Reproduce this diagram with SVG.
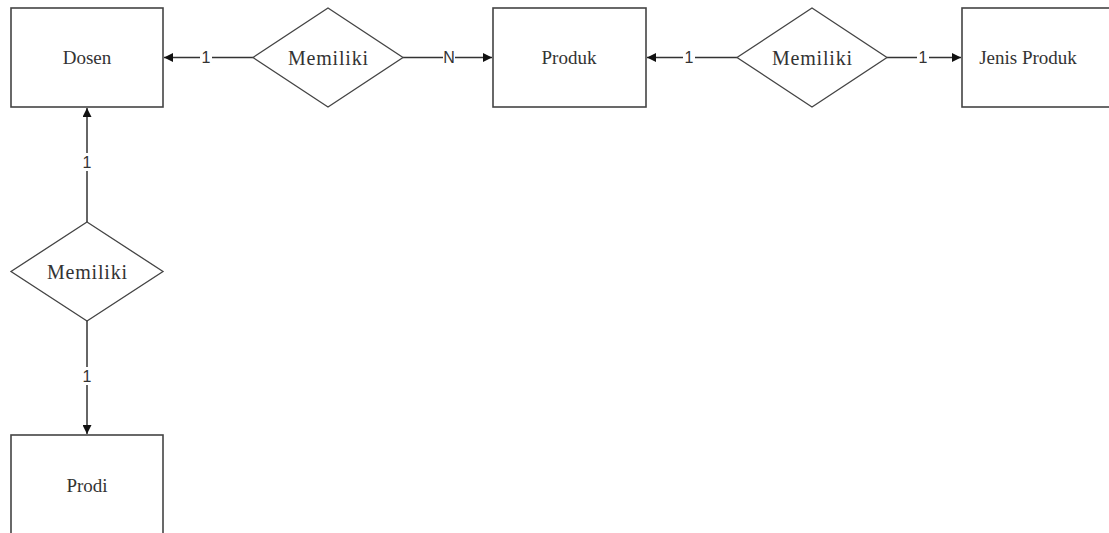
<svg xmlns="http://www.w3.org/2000/svg" width="1109" height="533" viewBox="0 0 1109 533">
<defs>
<style>
.ent{fill:#fff;stroke:#444;stroke-width:1.6}
.rel{fill:#fff;stroke:#444;stroke-width:1.3}
.t{font-family:"Liberation Serif",serif;font-size:19px;fill:#333;text-anchor:middle;dominant-baseline:central}
.m{font-size:20px}
.c{stroke:#333;stroke-width:1.5;fill:none}
.lb{font-family:"Liberation Sans",sans-serif;font-size:16px;fill:#333;text-anchor:middle;dominant-baseline:central}
.bg{fill:#fff}
</style>
<marker id="ah" viewBox="0 0 10 10" refX="10" refY="5" markerWidth="10" markerHeight="9" markerUnits="userSpaceOnUse" orient="auto">
<path d="M0,0 L10,5 L0,10 z" fill="#111"/>
</marker>
</defs>
<rect width="1109" height="533" fill="#fff"/>
<g id="connectors">
<line class="c" x1="253" y1="57.5" x2="164" y2="57.5" marker-end="url(#ah)"/>
<rect class="bg" x="200" y="49" width="12" height="17"/>
<text class="lb" x="206" y="57.5">1</text>
<line class="c" x1="403" y1="57.5" x2="492" y2="57.5" marker-end="url(#ah)"/>
<rect class="bg" x="443" y="49" width="12" height="17"/>
<text class="lb" x="449" y="57.5">N</text>
<line class="c" x1="737" y1="57.5" x2="647" y2="57.5" marker-end="url(#ah)"/>
<rect class="bg" x="683" y="49" width="12" height="17"/>
<text class="lb" x="689" y="57.5">1</text>
<line class="c" x1="887" y1="57.5" x2="961" y2="57.5" marker-end="url(#ah)"/>
<rect class="bg" x="917" y="49" width="12" height="17"/>
<text class="lb" x="923" y="57.5">1</text>
<line class="c" x1="87" y1="222" x2="87" y2="108" marker-end="url(#ah)"/>
<rect class="bg" x="80" y="153" width="14" height="18"/>
<text class="lb" x="87" y="162">1</text>
<line class="c" x1="87" y1="321" x2="87" y2="434" marker-end="url(#ah)"/>
<rect class="bg" x="80" y="367" width="14" height="18"/>
<text class="lb" x="87" y="376">1</text>
</g>
<g id="dosen">
<rect class="ent" x="11" y="8" width="152" height="99"/>
<text class="t" x="87" y="57.5">Dosen</text>
</g>
<g id="memiliki1">
<polygon class="rel" points="328,8 403,57.5 328,107 253,57.5"/>
<text class="t m" x="328" y="57.5" textLength="80" lengthAdjust="spacing">Memiliki</text>
</g>
<g id="produk">
<rect class="ent" x="493" y="8" width="153" height="99"/>
<text class="t" x="569" y="57.5">Produk</text>
</g>
<g id="memiliki2">
<polygon class="rel" points="812,8 887,57.5 812,107 737,57.5"/>
<text class="t m" x="812" y="57.5" textLength="80" lengthAdjust="spacing">Memiliki</text>
</g>
<g id="jenis-produk">
<rect class="ent" x="962" y="8" width="152" height="99"/>
<text class="t" x="1028" y="57.5">Jenis Produk</text>
</g>
<g id="memiliki3">
<polygon class="rel" points="87,222 163,271.5 87,321 11,271.5"/>
<text class="t m" x="87" y="271.5" textLength="80" lengthAdjust="spacing">Memiliki</text>
</g>
<g id="prodi">
<rect class="ent" x="11" y="435" width="152" height="100"/>
<text class="t" x="87" y="485">Prodi</text>
</g>
</svg>
